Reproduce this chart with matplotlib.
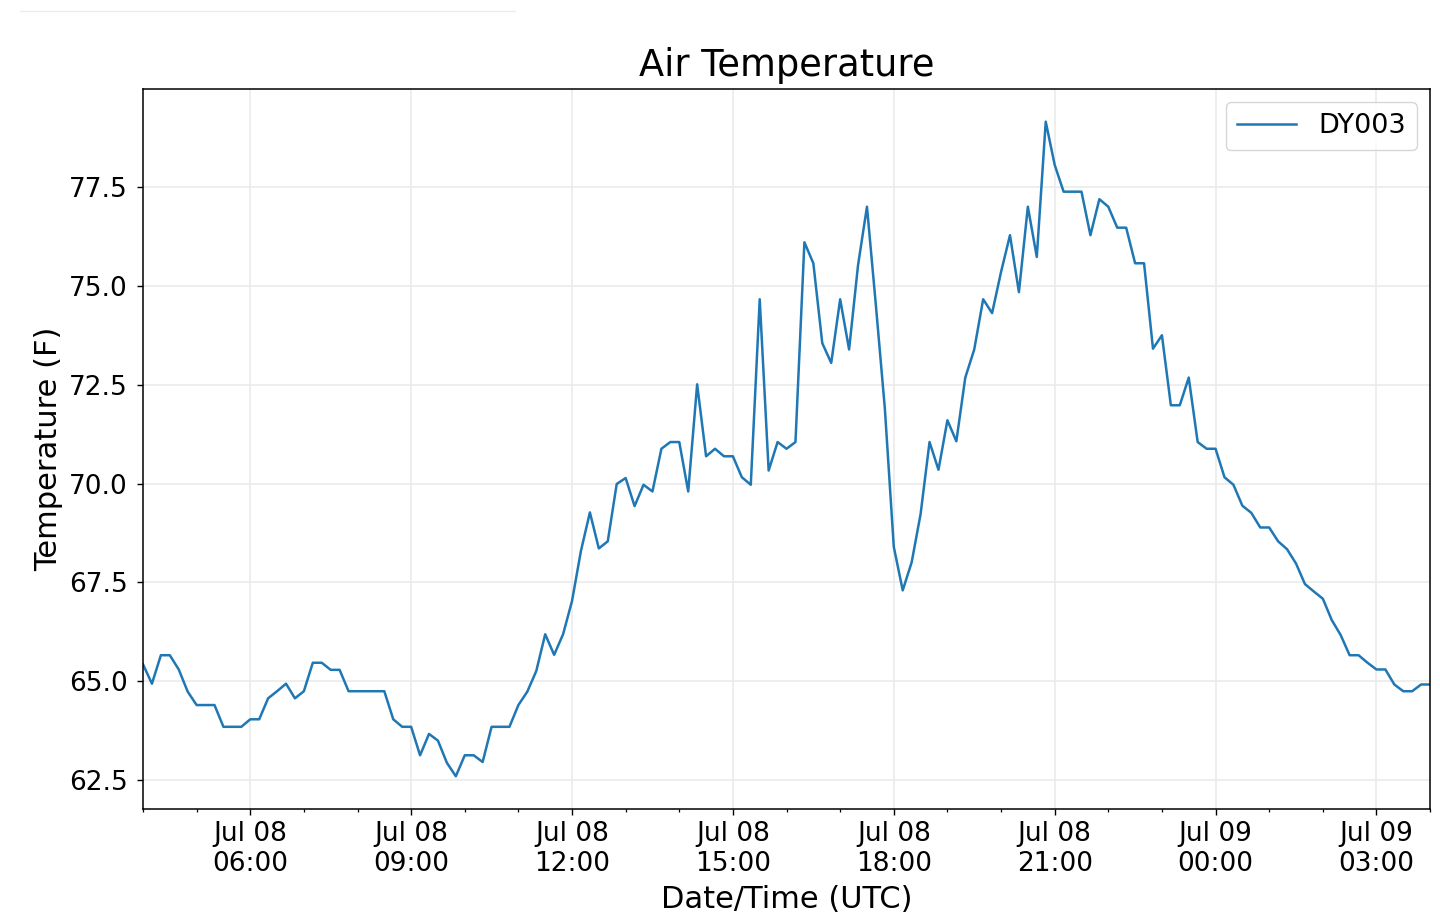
import matplotlib
matplotlib.use('Agg')
import matplotlib.pyplot as plt
import matplotlib.dates as mdates
from matplotlib.lines import Line2D
import pandas as pd

# Station reading every 10 minutes, Jul 08 04:00 -> Jul 09 04:00 (UTC)
station = 'DY003'
start_time = '2020-07-08 04:00'
step = '10min'

temps_f = [
    65.43, 64.94, 65.66, 65.66, 65.30, 64.74,   # 04:00
    64.40, 64.40, 64.40, 63.85, 63.85, 63.85,   # 05:00
    64.04, 64.04, 64.57, 64.75, 64.94, 64.57,   # 06:00
    64.75, 65.47, 65.47, 65.29, 65.29, 64.75,   # 07:00
    64.75, 64.75, 64.75, 64.75, 64.04, 63.85,   # 08:00
    63.85, 63.13, 63.67, 63.50, 62.94, 62.60,   # 09:00
    63.13, 63.13, 62.96, 63.85, 63.85, 63.85,   # 10:00
    64.40, 64.74, 65.26, 66.19, 65.67, 66.19,   # 11:00
    67.03, 68.30, 69.27, 68.36, 68.54, 69.99,   # 12:00
    70.14, 69.43, 69.97, 69.80, 70.88, 71.05,   # 13:00
    71.05, 69.80, 72.51, 70.69, 70.88, 70.69,   # 14:00
    70.69, 70.16, 69.97, 74.66, 70.33, 71.05,   # 15:00
    70.88, 71.05, 76.10, 75.57, 73.55, 73.05,   # 16:00
    74.66, 73.39, 75.52, 77.00, 74.50, 71.90,   # 17:00
    68.40, 67.30, 68.01, 69.23, 71.05, 70.35,   # 18:00
    71.60, 71.07, 72.68, 73.39, 74.66, 74.31,   # 19:00
    75.35, 76.28, 74.84, 77.00, 75.73, 79.15,   # 20:00
    78.06, 77.38, 77.38, 77.38, 76.28, 77.19,   # 21:00
    77.00, 76.47, 76.47, 75.57, 75.57, 73.41,   # 22:00
    73.75, 71.98, 71.98, 72.68, 71.05, 70.88,   # 23:00
    70.88, 70.16, 69.97, 69.44, 69.26, 68.89,   # 00:00
    68.89, 68.54, 68.34, 67.98, 67.46, 67.27,   # 01:00
    67.09, 66.55, 66.17, 65.66, 65.66, 65.47,   # 02:00
    65.30, 65.30, 64.92, 64.75, 64.75, 64.92,   # 03:00
    64.92,                                      # 04:00
]

times = pd.date_range(start_time, periods=len(temps_f), freq=step)
df = pd.DataFrame({station: temps_f}, index=times)

fig = plt.figure(figsize=(14.4, 9.17), dpi=100)
ax = fig.add_axes([0.0993, 0.1178, 0.8938, 0.7852])

ax.plot(df.index, df[station], color='#1f77b4', linewidth=1.8, label=station)
ax.set_xlim(df.index[0], df.index[-1])

# time axis: major every 3 hours, minor every hour
ax.xaxis.set_major_locator(mdates.HourLocator(byhour=range(0, 24, 3)))
ax.xaxis.set_major_formatter(mdates.DateFormatter('%b %d\n%H:%M'))
ax.xaxis.set_minor_locator(mdates.HourLocator())

ax.tick_params(axis='both', which='major', labelsize=19, length=4, width=1)
ax.tick_params(axis='x', which='major', pad=4.5)
ax.tick_params(axis='y', which='major', pad=7)
ax.tick_params(axis='x', which='minor', length=2.3, width=0.9)

ax.grid(True, color='#ebebeb', linewidth=1.2)
ax.set_axisbelow(True)
for s in ax.spines.values():
    s.set_linewidth(1.1)

ax.set_title('Air Temperature', fontsize=26.5, pad=9)
ax.set_xlabel('Date/Time (UTC)', fontsize=22, labelpad=6)
ax.set_ylabel('Temperature (F)', fontsize=22)
ax.legend(loc='upper right', fontsize=19.5, handlelength=2.2)

# faint divider left over at the top of the page
fig.add_artist(Line2D([20 / 1440, 515 / 1440], [1 - 10.5 / 917] * 2,
                      transform=fig.transFigure, color='#ededed', linewidth=1))

fig.savefig('out.png', dpi=100)
